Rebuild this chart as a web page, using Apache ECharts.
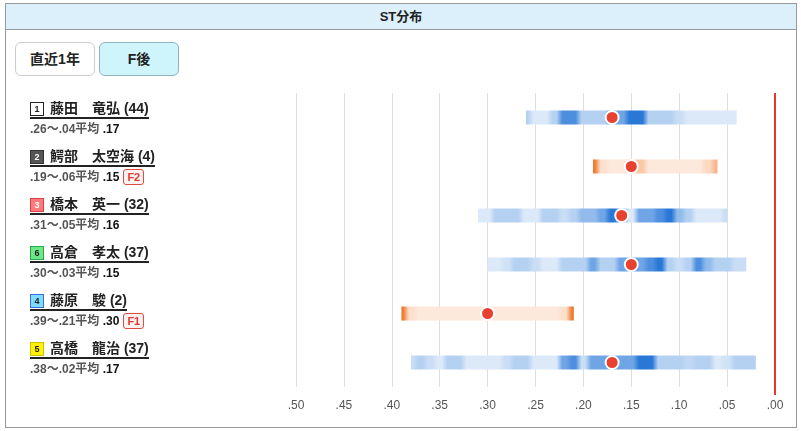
<!DOCTYPE html>
<html>
<head>
<meta charset="utf-8">
<script src="https://cdn.jsdelivr.net/npm/echarts@6/dist/echarts.min.js"></script>
<style>
  body { margin: 0; width: 801px; height: 431px; position: relative; background: #fff;
    font-family: "Liberation Sans", Arial, "Noto Sans CJK JP", sans-serif; overflow: hidden; }
  #frame { position: absolute; left: 5px; top: 3px; width: 790px; height: 423px; border: 1px solid #999; }
  #head { height: 25px; line-height: 25px; background: #dcf0fc; border-bottom: 1px solid #999;
    text-align: center; font-size: 13px; font-weight: bold; color: #222; }
  .btn { position: absolute; top: 38px; width: 78px; height: 32px; line-height: 32px; border: 1px solid #ccc;
    border-radius: 6px; text-align: center; font-size: 14px; font-weight: bold; color: #222; background: #fff; }
  .btn.on { background: #cdf5fb; border-color: #8fb3bf; }
  #chart { position: absolute; left: 0; top: 0; width: 801px; height: 431px; z-index: 1; }
  #names { position: absolute; left: 0; top: 0; z-index: 2; }
  .row { position: absolute; left: 30px; white-space: nowrap; }
  .nm { display: inline-block; height: 18px; line-height: 18px; border-bottom: 2px solid #222;
    font-size: 14px; font-weight: bold; color: #222; }
  .bd { display: inline-block; width: 12px; height: 12px; line-height: 12px; border: 1px solid #222;
    font-size: 9px; text-align: center; margin-right: 6px; vertical-align: 1px; }
  .sub { margin-top: 2px; line-height: 16px; font-size: 12px; font-weight: bold; color: #555; }
  .sub b { color: #111; }
  .f { display: inline-block; margin-left: 4px; padding: 0 3px; height: 14px; line-height: 14px;
    border: 1px solid #e04a40; border-radius: 3px; background: #fff2f0; color: #e03a30; font-size: 11px; }
</style>
</head>
<body>
<div id="frame">
  <div id="head">ST分布</div>
  <div class="btn" style="left:9px">直近1年</div>
  <div class="btn on" style="left:93px">F後</div>
</div>
<div id="chart"></div>
<div id="names"></div>
<script>
var boats = ['1', '2', '3', '6', '4', '5'];
var racers = ['藤田　竜弘', '鰐部　太空海', '橋本　英一', '高倉　孝太', '藤原　駿', '高橋　龍治'];
var starts = [44, 4, 32, 37, 2, 37];
var stMax = [0.26, 0.19, 0.31, 0.30, 0.39, 0.38];
var stMin = [0.04, 0.06, 0.05, 0.03, 0.21, 0.02];
var stAvg = [0.17, 0.15, 0.16, 0.15, 0.30, 0.17];
var flying = ['', 'F2', '', '', 'F1', ''];

// how often each ST shows up, per 0.01 from max to min (0 = none, 3 = most)
var density = [
  [1, 0, 0, 1, 2.5, 2.5, 1, 1, 1, 2, 2, 3, 3, 1, 1, 1, 0.5, 0, 0, 0, 0, 0, 0],
  [3, 0.3, 0, 0, 0.5, 1, 0, 0, 0, 0, 0, 0, 0.5, 1.5],
  [0, 0, 1, 1, 1, 0, 0, 1, 1, 0.5, 1, 1.5, 1.5, 2, 3, 2, 0, 2, 2, 2.5, 3, 1.5, 1, 0, 0, 0, 0.5],
  [0, 0, 0.3, 1, 1, 0.5, 0, 0, 1, 1, 1, 2, 1, 1, 2, 2, 2, 2.5, 3, 1, 0.5, 1, 2.5, 1.5, 1, 1, 0.5, 0.5],
  [3, 0.3, 0, 0, 0, 0, 0, 0, 0, 0, 0, 0, 0, 0, 0, 0, 0, 0.3, 3],
  [0.5, 1, 0.5, 0, 1, 1, 0, 0, 0, 0, 0.5, 1, 1, 0, 0, 0, 2, 2.5, 0.5, 2, 2, 2, 2, 2, 3, 3, 1, 1, 1, 0.7, 1, 1, 0, 0.3, 1, 1, 1]
];

var badgeStyle = {
  '1': 'background:#fff;border-color:#222;color:#222',
  '2': 'background:#555;border-color:#333;color:#fff',
  '3': 'background:#ff7b7b;border-color:#e04040;color:#fff',
  '4': 'background:#7fdcff;border-color:#3a6fe0;color:#222',
  '5': 'background:#fff200;border-color:#d4c000;color:#222',
  '6': 'background:#6ee68a;border-color:#28a745;color:#222'
};

function st(v) {
  return v.toFixed(2).replace(/^0/, '');
}

// left list
var html = '';
racers.forEach(function (name, i) {
  html += '<div class="row" style="top:' + (99 + i * 48) + 'px">' +
    '<div class="nm"><span class="bd" style="' + badgeStyle[boats[i]] + '">' + boats[i] + '</span>' +
    name + ' (' + starts[i] + ')</div>' +
    '<div class="sub">' + st(stMax[i]) + '〜' + st(stMin[i]) + '平均 <b>' + st(stAvg[i]) + '</b>' +
    (flying[i] ? '<span class="f">' + flying[i] + '</span>' : '') + '</div></div>';
});
document.getElementById('names').innerHTML = html;

var blues = ['#dce9f8', '#b5d1f2', '#6fa5e5', '#2a78d6'];
var oranges = ['#fde9dc', '#fac8a6', '#f6a46d', '#f07a30'];

function mix(pal, lv) {
  var a = Math.floor(lv), b = Math.min(a + 1, pal.length - 1), t = lv - a;
  var ca = echarts.color.parse(pal[a]), cb = echarts.color.parse(pal[b]);
  var c = [0, 1, 2].map(function (k) { return Math.round(ca[k] + (cb[k] - ca[k]) * t); });
  return 'rgb(' + c.join(',') + ')';
}

var gradients = density.map(function (d, i) {
  var pal = flying[i] ? oranges : blues;
  var step = 1 / (d.length - 1);
  var stops = [];
  d.forEach(function (lv, k) {
    var col = mix(pal, lv);
    stops.push({ offset: Math.max(0, k * step - step * 0.2), color: col });
    stops.push({ offset: Math.min(1, k * step + step * 0.2), color: col });
  });
  return new echarts.graphic.LinearGradient(0, 0, 1, 0, stops);
});

var chart = echarts.init(document.getElementById('chart'));
chart.setOption({
  animation: false,
  grid: { left: 296, right: 26, top: 93, bottom: 44 },
  xAxis: {
    type: 'value', min: 0, max: 0.5, interval: 0.05, inverse: true,
    axisLine: { lineStyle: { color: '#ddd' } },
    axisTick: { length: 8, lineStyle: { color: '#ddd' } },
    splitLine: { lineStyle: { color: '#ddd' } },
    axisLabel: { color: '#555', fontSize: 12, margin: 13, fontFamily: 'Liberation Sans', formatter: st }
  },
  yAxis: { type: 'category', data: racers, inverse: true, show: false },
  series: [
    {
      type: 'custom',
      data: racers.map(function (n, i) { return [i, stMax[i], stMin[i]]; }),
      encode: { x: [1, 2], y: 0 },
      renderItem: function (params, api) {
        var i = api.value(0);
        var a = api.coord([api.value(1), i]);
        var b = api.coord([api.value(2), i]);
        return {
          type: 'rect',
          shape: { x: a[0], y: a[1] - 7, width: b[0] - a[0], height: 14 },
          style: { fill: gradients[i] }
        };
      }
    },
    {
      type: 'scatter',
      data: stAvg.map(function (v, i) { return [v, i]; }),
      symbolSize: 13,
      itemStyle: { color: '#e8412f', borderColor: '#fff', borderWidth: 2, opacity: 1 },
      z: 3
    },
    {
      type: 'custom',
      data: [[0]],
      clip: false,
      z: 4,
      renderItem: function (params, api) {
        var x = api.coord([0, 0])[0];
        var cs = params.coordSys;
        return {
          type: 'line',
          shape: { x1: x, y1: cs.y, x2: x, y2: cs.y + cs.height + 8 },
          style: { stroke: '#e53a2a', lineWidth: 2 }
        };
      }
    }
  ]
});
</script>
</body>
</html>
